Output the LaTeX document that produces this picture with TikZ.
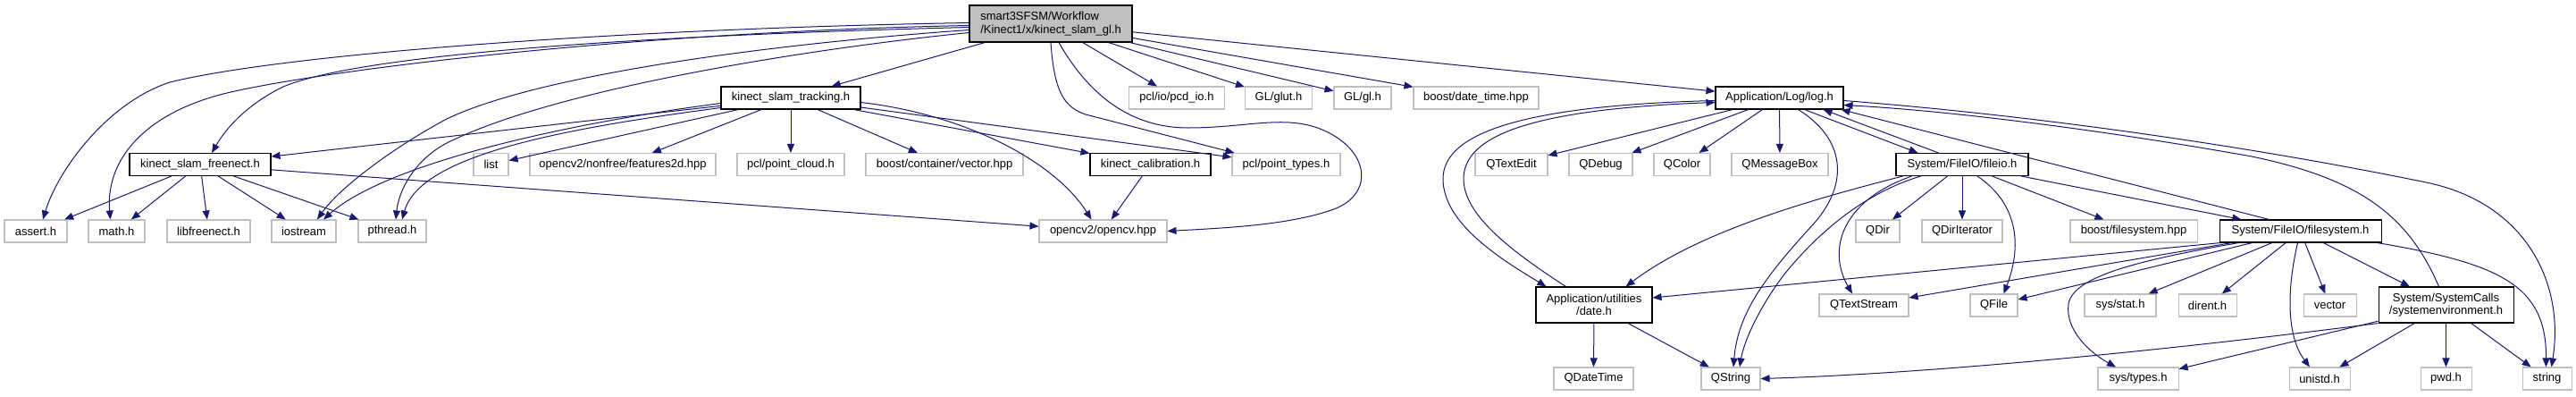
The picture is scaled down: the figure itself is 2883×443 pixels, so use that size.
\documentclass[tikz,border=0pt]{standalone}
\usepackage{fontspec}
\setmainfont{Liberation Sans}
\usepackage{xcolor}
\usetikzlibrary{arrows.meta,calc}
\definecolor{incblue}{HTML}{191970}
\definecolor{extgray}{HTML}{BFBFBF}

\begin{document}
\begin{tikzpicture}[x=0.75pt,y=-0.75pt,
    every node/.style={font=\fontsize{9.75}{10.75}\selectfont,inner xsep=2pt,inner ysep=0pt,
      minimum height=18.75pt,line width=0.8pt},
    extfile/.style={draw=extgray,fill=white},
    docfile/.style={draw=black,fill=white},
    mainfile/.style={draw=black,fill=extgray},
    dep/.style={draw=incblue,line width=0.75pt,-{Triangle[length=7.5pt,width=6pt]}}]
  \useasboundingbox (0,0) rectangle (2883,443);

  \node[mainfile,align=left,minimum width=136.5pt,minimum height=30.75pt] (main) at (1176,26.5)
    {smart3SFSM/Workflow\\/Kinect1/x/kinect\_slam\_gl.h};

  \foreach \n/\x/\w/\t in {tracking/885/156/{kinect\_slam\_tracking.h},log/1991.5/143/{Application/Log/log.h}}
    \node[docfile,minimum width=\w*0.75pt] (\n) at (\x,109.5) {\t};
  \foreach \n/\x/\w/\t in {pcdio/1317/107/{pcl/io/pcd\_io.h},glut/1431/75/{GL/glut.h},gl/1525/64/{GL/gl.h},
      datetime/1652/140/{boost/date\_time.hpp}}
    \node[extfile,minimum width=\w*0.75pt] (\n) at (\x,109.5) {\t};

  \foreach \n/\x/\w/\t in {freenect/224/158/{kinect\_slam\_freenect.h},calib/1287.5/135/{kinect\_calibration.h},
      fileio/2196/148/{System/FileIO/fileio.h}}
    \node[docfile,minimum width=\w*0.75pt] (\n) at (\x,184) {\t};
  \foreach \n/\x/\w/\t in {list/549.5/39/{list},features/697/208/{opencv2/nonfree/features2d.hpp},
      pointcloud/885/120/{pcl/point\_cloud.h},contvector/1057/176/{boost/container/vector.hpp},
      pointtypes/1439.5/121/{pcl/point\_types.h},qtextedit/1691.5/81/{QTextEdit},qdebug/1791.5/71/{QDebug},
      qcolor/1882.5/63/{QColor},qmsgbox/1992/108/{QMessageBox}}
    \node[extfile,minimum width=\w*0.75pt] (\n) at (\x,184) {\t};

  \node[docfile,minimum width=135.75pt] (filesystem) at (2574.5,258.5) {System/FileIO/filesystem.h};
  \foreach \n/\x/\w/\t in {assert/40/70/{assert.h},math/130.5/63/{math.h},libfreenect/233.5/93/{libfreenect.h},
      iostream/340/72/{iostream},pthread/439/76/{pthread.h},opencv/1234.5/143/{opencv2/opencv.hpp},
      qdir/2101.5/49/{QDir},qdiriter/2196/90/{QDirIterator},bfs/2388/142/{boost/filesystem.hpp}}
    \node[extfile,minimum width=\w*0.75pt] (\n) at (\x,258.5) {\t};

  \node[docfile,align=center,minimum width=97.5pt,minimum height=30pt] (date) at (1784,341)
    {Application/utilities\\/date.h};
  \node[docfile,align=center,minimum width=113.25pt,minimum height=30pt] (sysenv) at (2737.5,341)
    {System/SystemCalls\\/systemenvironment.h};
  \foreach \n/\x/\w/\t in {qtextstream/2086/100/{QTextStream},qfile/2231.5/53/{QFile},sysstat/2373/80/{sys/stat.h},
      dirent/2470.5/65/{dirent.h},vector/2607.5/59/{vector}}
    \node[extfile,minimum width=\w*0.75pt] (\n) at (\x,341.5) {\t};

  \foreach \n/\x/\w/\t in {qdatetime/1783.5/89/{QDateTime},qstring/1937/66/{QString},systypes/2393/90/{sys/types.h},
      unistd/2596/68/{unistd.h},pwd/2737.5/57/{pwd.h},string/2850.5/55/{string}}
    \node[extfile,minimum width=\w*0.75pt] (\n) at (\x,423.5) {\t};

  \foreach \a/\b in {main/tracking,main/pcdio,main/glut,main/gl,main/datetime,main/log,
      tracking/freenect,tracking/list,tracking/features,tracking/pointcloud,tracking/contvector,
      tracking/calib,tracking/pointtypes,freenect/assert,freenect/math,freenect/libfreenect,
      freenect/iostream,freenect/pthread,freenect/opencv,calib/opencv,
      log/qtextedit,log/qdebug,log/qcolor,log/qmsgbox,fileio/qdir,fileio/qdiriter,fileio/bfs,
      fileio/filesystem,filesystem/qtextstream,filesystem/qfile,filesystem/sysstat,filesystem/dirent,
      filesystem/vector,filesystem/sysenv,date/qdatetime,date/qstring,
      sysenv/systypes,sysenv/unistd,sysenv/pwd,sysenv/string}
    \draw[dep] (\a) -- (\b);

  \draw[dep] ($(main.west)+(0,-1)$) .. controls (700,32) and (320,60) .. (190,92)
    .. controls (120,115) and (65,190) .. ($(assert.north)+(8,0)$);
  \draw[dep] ($(main.west)+(0,2)$) .. controls (700,36) and (350,80) .. (250,105)
    .. controls (160,128) and (118,180) .. ($(math.north)+(-7,0)$);
  \draw[dep] ($(main.west)+(0,4)$) .. controls (700,40) and (400,62) .. (317,97)
    .. controls (280,115) and (255,140) .. ($(freenect.north)+(13,0)$);
  \draw[dep] ($(main.west)+(0,7)$) .. controls (850,50) and (600,85) .. (500,133)
    .. controls (440,165) and (380,210) .. ($(iostream.north)+(15,0)$);
  \draw[dep] ($(main.west)+(0,10)$) .. controls (900,55) and (620,100) .. (500,160)
    .. controls (462,180) and (446,215) .. ($(pthread.north)+(4,0)$);
  \draw[dep] (main.south) .. controls (1180,105) and (1192,120) .. (1215,128)
    -- ($(pointtypes.north west)+(3,0)$);
  \draw[dep] ($(main.south)+(9,0)$) .. controls (1215,100) and (1260,143) .. (1330,143)
    .. controls (1400,143) and (1445,125) .. (1490,150) .. controls (1535,175) and (1535,220) .. (1490,235)
    .. controls (1440,252) and (1370,255) .. (opencv.east);

  \draw[dep] ($(tracking.west)+(0,6)$) .. controls (620,140) and (430,185) .. ($(iostream.north)+(22,0)$);
  \draw[dep] ($(tracking.west)+(0,11)$) .. controls (620,145) and (470,175) .. ($(pthread.north)+(11,0)$);
  \draw[dep] ($(tracking.east)+(0,5)$) .. controls (1080,128) and (1180,180) .. ($(opencv.north)+(-13,0)$);

  \draw[dep] ($(log.west)+(0,3)$) .. controls (1700,118) and (1615,150) .. (1615,200)
    .. controls (1615,250) and (1680,290) .. ($(date.north west)+(12,0)$);
  \draw[dep] ($(date.north west)+(34,0)$) .. controls (1690,280) and (1638,240) .. (1638,200)
    .. controls (1638,150) and (1720,122) .. ($(log.west)+(0,5)$);
  \draw[dep] ($(log.south)+(21,0)$) .. controls (2065,155) and (2070,205) .. (2030,250)
    .. controls (1975,310) and (1945,350) .. ($(qstring.north)+(3,0)$);
  \draw[dep] ($(log.south)+(28,0)$) -- ($(fileio.north west)+(25,0)$);
  \draw[dep] ($(fileio.north west)+(48,0)$) -- ($(log.south east)+(-23,0)$);
  \draw[dep] ($(log.east)+(0,3)$) .. controls (2350,135) and (2600,180) .. (2720,205)
    .. controls (2830,230) and (2870,320) .. ($(string.north)+(5,0)$);

  \draw[dep] ($(fileio.south west)+(8,0)$) .. controls (2020,225) and (1900,260) .. ($(date.north east)+(-30,0)$);
  \draw[dep] ($(fileio.south west)+(18,0)$) .. controls (2060,225) and (2045,280) .. ($(qtextstream.north)+(-13,0)$);
  \draw[dep] ($(fileio.south west)+(28,0)$) .. controls (2090,215) and (2040,255) .. (2000,303)
    .. controls (1972,338) and (1952,380) .. ($(qstring.north)+(10,0)$);
  \draw[dep] ($(fileio.south)+(17,0)$) .. controls (2255,225) and (2265,270) .. ($(qfile.north)+(11,0)$);

  \draw[dep] ($(filesystem.north west)+(56,0)$) -- ($(log.south east)+(-3,0)$);
  \draw[dep] ($(filesystem.south west)+(2,0)$) -- ($(date.east)+(0,-8)$);
  \draw[dep] ($(filesystem.south west)+(22,0)$) .. controls (2400,290) and (2320,308) .. (2315,340)
    .. controls (2311,370) and (2340,395) .. ($(systypes.north)+(-25,0)$);
  \draw[dep] ($(filesystem.south)+(-3,0)$) .. controls (2560,320) and (2558,375) .. ($(unistd.north)+(-11,0)$);
  \draw[dep] ($(filesystem.south east)+(-5,0)$) .. controls (2800,295) and (2850,320) .. ($(string.north)+(-1,0)$);

  \draw[dep] ($(sysenv.north west)+(68,0)$) .. controls (2695,240) and (2640,200) .. (2520,175)
    .. controls (2380,150) and (2200,125) .. ($(log.east)+(0,8)$);
  \draw[dep] (sysenv.south west) .. controls (2400,395) and (2150,418) .. (qstring.east);
\end{tikzpicture}
\end{document}
